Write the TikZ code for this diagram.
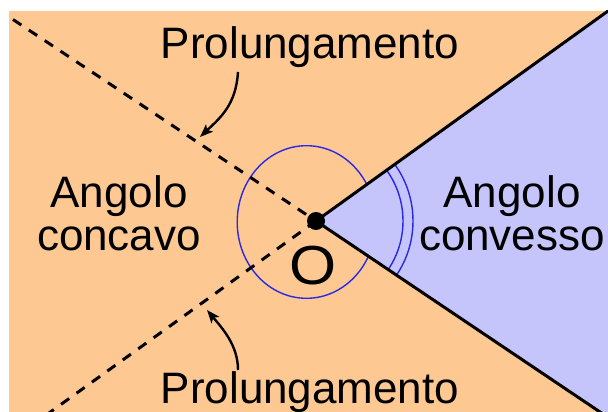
\documentclass[tikz,border=0pt]{standalone}
\usepackage{fontspec}
\usepackage{graphicx}
\setmainfont{Liberation Sans}
\usetikzlibrary{arrows.meta}
\definecolor{orangebg}{RGB}{254,200,146}
\definecolor{wedgecol}{RGB}{197,197,251}
\definecolor{arcblue}{RGB}{40,40,230}
\begin{document}
\begin{tikzpicture}[x=1pt,y=-1pt,
  lbl/.style={font=\fontsize{44}{44}\selectfont, inner sep=0pt, anchor=base},
  arcline/.style={draw=arcblue, line width=1.4pt},
  raystyle/.style={line width=3pt},
  dashstyle/.style={line width=3pt, dash pattern=on 10pt off 9pt},
  arr/.style={line width=2.4pt, -{Stealth[length=13pt,width=10pt,inset=3pt]}}]
\useasboundingbox (0,0) rectangle (608,412);
\coordinate (O) at (316,221);
\coordinate (U) at (900,-199);
\coordinate (L) at (884,603);
\coordinate (D1) at (13,19.5);
\coordinate (D2) at (24,431);
\fill[orangebg] (8.5,11) rectangle (608,412);
\begin{scope}
  \clip (8.5,11) rectangle (608,412);
  \fill[wedgecol] (O) -- (U) -- (L) -- cycle;
  \begin{scope}
    \clip (O) -- (U) -- (900,-300) -- (-300,-300) -- (-300,700) -- (L) -- cycle;
    \draw[arcline] (306.5,222) ellipse [x radius=69.3, y radius=76.3];
  \end{scope}
  \begin{scope}
    \clip (O) -- (U) -- (L) -- cycle;
    \draw[arcline] (O) circle [radius=87];
    \draw[arcline] (O) circle [radius=97];
  \end{scope}
  \draw[dashstyle] (D1) -- (O);
  \draw[dashstyle] (O) -- (D2);
  \draw[raystyle] (O) -- (U);
  \draw[raystyle] (O) -- (L);
\end{scope}
\fill (O) circle [radius=9];
\node[lbl] (t1) at (310,58.3) {Prolungamento};
\node[lbl] (t2) at (310,403.3) {Prolungamento};
\node[lbl] (c1) at (119,207) {Angolo};
\node[lbl] (c2) at (119,250) {concavo};
\node[lbl] (v1) at (512,207) {Angolo};
\node[lbl] (v2) at (512,250) {convesso};
\node[anchor=base, inner sep=0pt] (o) at (313,284.5) {\fontsize{55}{55}\selectfont\scalebox{1.1}[1]{O}};
\coordinate (a1s) at (238,72);
\coordinate (a1e) at (200,137);
\draw[arr] (a1s) .. controls (236,105) and (220,118) .. (a1e);
\coordinate (a2s) at (238,370);
\coordinate (a2e) at (207,310);
\draw[arr] (a2s) .. controls (238,345) and (222,328) .. (a2e);
\end{tikzpicture}
\end{document}
